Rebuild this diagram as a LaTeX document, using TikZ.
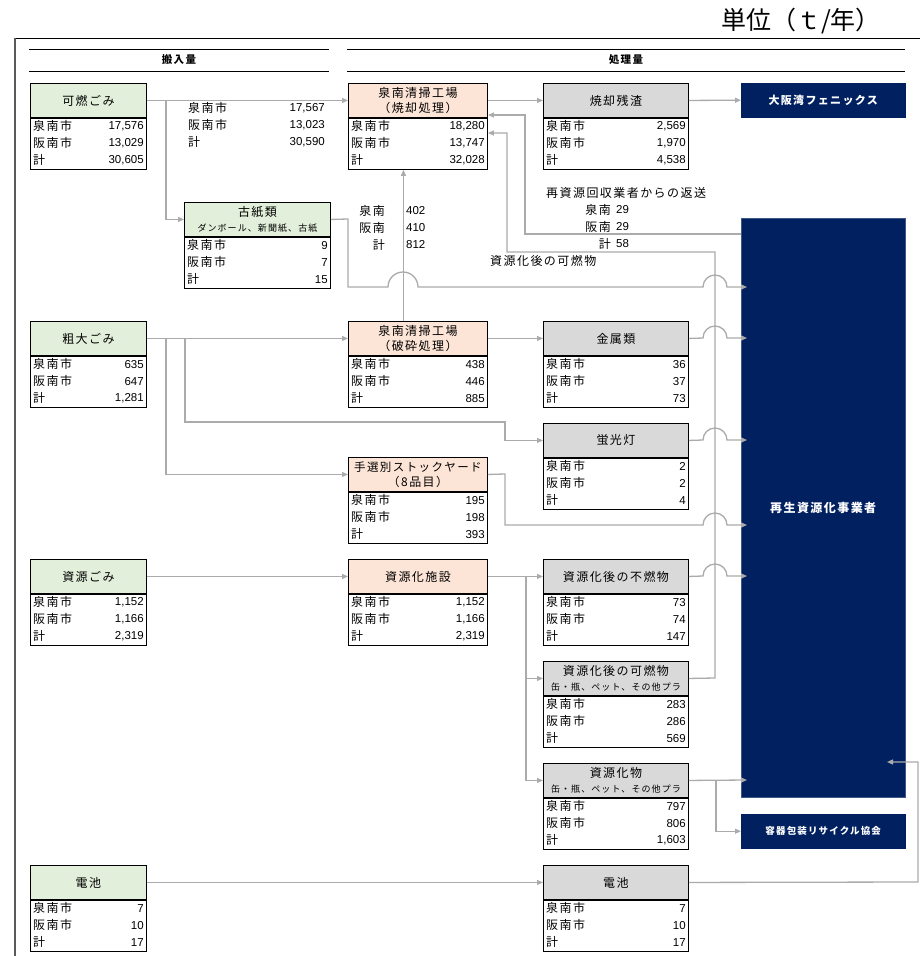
\documentclass[tikz,border=0pt]{standalone}
\usepackage{fontspec}
\setmainfont[LetterSpace=12]{Noto Sans CJK JP}
\newfontfamily\numf{Liberation Sans}
\newfontfamily\jpplain{Noto Sans CJK JP}
\usetikzlibrary{arrows.meta,calc}
\definecolor{cgreen}{HTML}{E2EFDA}
\definecolor{cpeach}{HTML}{FCE4D6}
\definecolor{cgrey}{HTML}{D9D9D9}
\definecolor{cnavy}{HTML}{002060}
\definecolor{cline}{HTML}{ABABAB}
\tikzset{
 hdr/.style={draw=black, line width=0.9pt, inner sep=0pt, align=center, anchor=north west, font=\fontsize{12}{15}\selectfont},
 body/.style={draw=black, line width=0.9pt, inner sep=0pt, anchor=north west, minimum height=51pt},
 lbl/.style={inner sep=0pt, font=\fontsize{12}{14}\selectfont},
 num/.style={inner sep=0pt, font=\numf\fontsize{11.5}{13}\selectfont},
 conn/.style={draw=cline, line width=1.3pt, -{Triangle[length=6pt,width=5pt]}},
 dark/.style={fill=cnavy, draw=cnavy, text=white, anchor=north west, inner sep=0pt, font=\bfseries\fontsize{11}{13}\selectfont},
 rule/.style={draw=black, line width=0.9pt},
}
\newcommand\sub[1]{{\fontsize{9}{11}\selectfont #1}}
\newcommand\dbox[9]{%
 \node[hdr, fill=#5, minimum width=#4pt, minimum height=34pt] (#1) at (#2,#3) {#6};
 \node[body, minimum width=#4pt] (#1b) at (#1.south west) {};
 \node[lbl, anchor=west] (#1la) at ([xshift=3pt,yshift=-8.5pt]#1b.north west) {泉南市};
 \node[lbl, anchor=west] (#1lb) at ([xshift=3pt,yshift=-25.5pt]#1b.north west) {阪南市};
 \node[lbl, anchor=west] (#1lc) at ([xshift=3pt,yshift=-42.5pt]#1b.north west) {計};
 \node[num, anchor=east] (#1va) at ([xshift=-3pt,yshift=-8.5pt]#1b.north east) {#7};
 \node[num, anchor=east] (#1vb) at ([xshift=-3pt,yshift=-25.5pt]#1b.north east) {#8};
 \node[num, anchor=east] (#1vc) at ([xshift=-3pt,yshift=-42.5pt]#1b.north east) {#9};
}
\begin{document}
\begin{tikzpicture}[x=1pt,y=-1pt]
\useasboundingbox (0,0) rectangle (920,956);
% frame and title
\node[anchor=east, inner sep=0pt, font=\jpplain\fontsize{25}{27}\selectfont] (unit) at (881,21) {単位（ｔ/年）};
\draw[line width=0.9pt] (15,38) -- (920,38);
\draw[line width=1.6pt, draw=black!65] (15,38) -- (15,956);
% column headers
\draw[rule] (29,49) -- (329,49);
\draw[rule] (29,71) -- (329,71);
\node[inner sep=0pt, font=\bfseries\fontsize{10.5}{12}\selectfont] (hin) at (179,60) {搬入量};
\draw[rule] (347,49) -- (905,49);
\draw[rule] (347,71) -- (905,71);
\node[inner sep=0pt, font=\bfseries\fontsize{10.5}{12}\selectfont] (hsy) at (626,60) {処理量};
% boxes
\dbox{kanen}{30}{83}{116}{cgreen}{可燃ごみ}{17,576}{13,029}{30,605}
\dbox{shoukyaku}{348}{83}{139}{cpeach}{泉南清掃工場\\（焼却処理）}{18,280}{13,747}{32,028}
\dbox{zansa}{543}{83}{145}{cgrey}{焼却残渣}{2,569}{1,970}{4,538}
\dbox{kosi}{184}{202}{146}{cgreen}{古紙類\\\sub{ダンボール、新聞紙、古紙}}{9}{7}{15}
\dbox{sodai}{30}{321}{116}{cgreen}{粗大ごみ}{635}{647}{1,281}
\dbox{hasai}{348}{321}{139}{cpeach}{泉南清掃工場\\（破砕処理）}{438}{446}{885}
\dbox{kinzoku}{543}{321}{145}{cgrey}{金属類}{36}{37}{73}
\dbox{keikou}{543}{423}{145}{cgrey}{蛍光灯}{2}{2}{4}
\dbox{tesen}{348}{457}{139}{cpeach}{{\fontsize{11.5}{15}\selectfont 手選別ストックヤード}\\（8品目）}{195}{198}{393}
\dbox{shigen}{30}{559}{116}{cgreen}{資源ごみ}{1,152}{1,166}{2,319}
\dbox{shisetsu}{348}{559}{139}{cpeach}{資源化施設}{1,152}{1,166}{2,319}
\dbox{funen}{543}{559}{145}{cgrey}{資源化後の不燃物}{73}{74}{147}
\dbox{kanen2}{543}{661}{145}{cgrey}{資源化後の可燃物\\\sub{缶・瓶、ペット、その他プラ}}{283}{286}{569}
\dbox{shigenbutsu}{543}{763}{145}{cgrey}{資源化物\\\sub{缶・瓶、ペット、その他プラ}}{797}{806}{1,603}
\dbox{denchi}{30}{865}{116}{cgreen}{電池}{7}{10}{17}
\dbox{denchib}{543}{865}{145}{cgrey}{電池}{7}{10}{17}
% dark boxes
\node[dark, minimum width=164pt, minimum height=34pt] (phoenix) at (741,83) {大阪湾フェニックス};
\node[dark, draw=cnavy!75!white, minimum width=164pt, minimum height=579pt, font=\bfseries\fontsize{12}{14}\selectfont] (saisei) at (741,218) {再生資源化事業者};
\node[dark, minimum width=164pt, minimum height=34pt, font=\bfseries\fontsize{9.5}{12}\selectfont] (yoki) at (741,814) {容器包装リサイクル協会};
% flow labels
\node[lbl, anchor=west] (fa1) at (188,108) {泉南市};
\node[lbl, anchor=west] (fa2) at (188,125) {阪南市};
\node[lbl, anchor=west] (fa3) at (188,142) {計};
\node[num, anchor=east] (fv1) at (325,108) {17,567};
\node[num, anchor=east] (fv2) at (325,125) {13,023};
\node[num, anchor=east] (fv3) at (325,142) {30,590};
\node[lbl, anchor=east] (ga1) at (385,211) {泉南};
\node[lbl, anchor=east] (ga2) at (385,228) {阪南};
\node[lbl, anchor=east] (ga3) at (385,245) {計};
\node[num, anchor=west] (gv1) at (406,211) {402};
\node[num, anchor=west] (gv2) at (406,228) {410};
\node[num, anchor=west] (gv3) at (406,245) {812};
\node[lbl, anchor=west] (ret) at (546,193) {再資源回収業者からの返送};
\node[lbl, anchor=east] (ra1) at (611,210) {泉南};
\node[lbl, anchor=east] (ra2) at (611,227) {阪南};
\node[lbl, anchor=east] (ra3) at (611,244) {計};
\node[num, anchor=west] (rv1) at (616,210) {29};
\node[num, anchor=west] (rv2) at (616,227) {29};
\node[num, anchor=west] (rv3) at (616,244) {58};
\node[lbl, anchor=west] (kf) at (490,261) {資源化後の可燃物};
% connectors: row 1
\draw[conn] (kanen.east) -- (shoukyaku.west);
\draw[conn] ([xshift=19pt]kanen.east) |- (kosi.west);
\draw[conn] (kosi.east) -- (348,219) -- (348,287) -- (388,287) arc[start angle=180, end angle=0, radius=15pt] -- (703,287) arc[start angle=180, end angle=0, radius=12pt] -- ($(saisei.north west)+(6,69)$);
\draw[conn] (shoukyaku.east) -- (zansa.west);
\draw[conn] (zansa.east) -- (phoenix.west);
\draw[conn] ($(saisei.north west)+(0,16)$) -- (525,234) -- (525,115) -- ($(shoukyaku.north east)+(0,32)$);
\draw[conn] (kanen2.east) -- (715,678) -- (715,252) -- (507,252) -- (507,133) -- ($(shoukyaku.north east)+(0,50)$);
\draw[conn] ([xshift=-14.5pt]hasai.north) -- ([xshift=-14.5pt]shoukyakub.south);
% row 2
\draw[conn] (sodai.east) -- (hasai.west);
\draw[conn] ([xshift=19pt]sodai.east) |- (tesen.west);
\draw[conn] ([xshift=38pt]sodai.east) |- (505,422) |- (keikou.west);
\draw[conn] (hasai.east) -- (kinzoku.west);
\draw[conn] (kinzoku.east) -- (703,338) arc[start angle=180, end angle=0, radius=12pt] -- ($(saisei.north west)+(6,120)$);
\draw[conn] (keikou.east) -- (703,440) arc[start angle=180, end angle=0, radius=12pt] -- ($(saisei.north west)+(6,222)$);
\draw[conn] (tesen.east) -- (505,474) -- (505,525) -- (703,525) arc[start angle=180, end angle=0, radius=12pt] -- ($(saisei.north west)+(6,307)$);
% row 3
\draw[conn] (shigen.east) -- (shisetsu.west);
\draw[conn] (shisetsu.east) -- (funen.west);
\draw[conn] ([xshift=38pt]shisetsu.east) |- (kanen2.west);
\draw[conn] ([xshift=38pt]shisetsu.east) |- (shigenbutsu.west);
\draw[conn] (funen.east) -- (703,576) arc[start angle=180, end angle=0, radius=12pt] -- ($(saisei.north west)+(6,358)$);
\draw[conn] (shigenbutsu.east) -- ($(saisei.north west)+(6,562)$);
\draw[conn] ([xshift=27pt]shigenbutsu.east) |- (yoki.west);
% batteries
\draw[conn] (denchi.east) -- (denchib.west);
\draw[conn] (denchib.east) -- (918,882) -- (918,762) -- ($(saisei.north west)+(146,544)$);
\end{tikzpicture}
\end{document}
